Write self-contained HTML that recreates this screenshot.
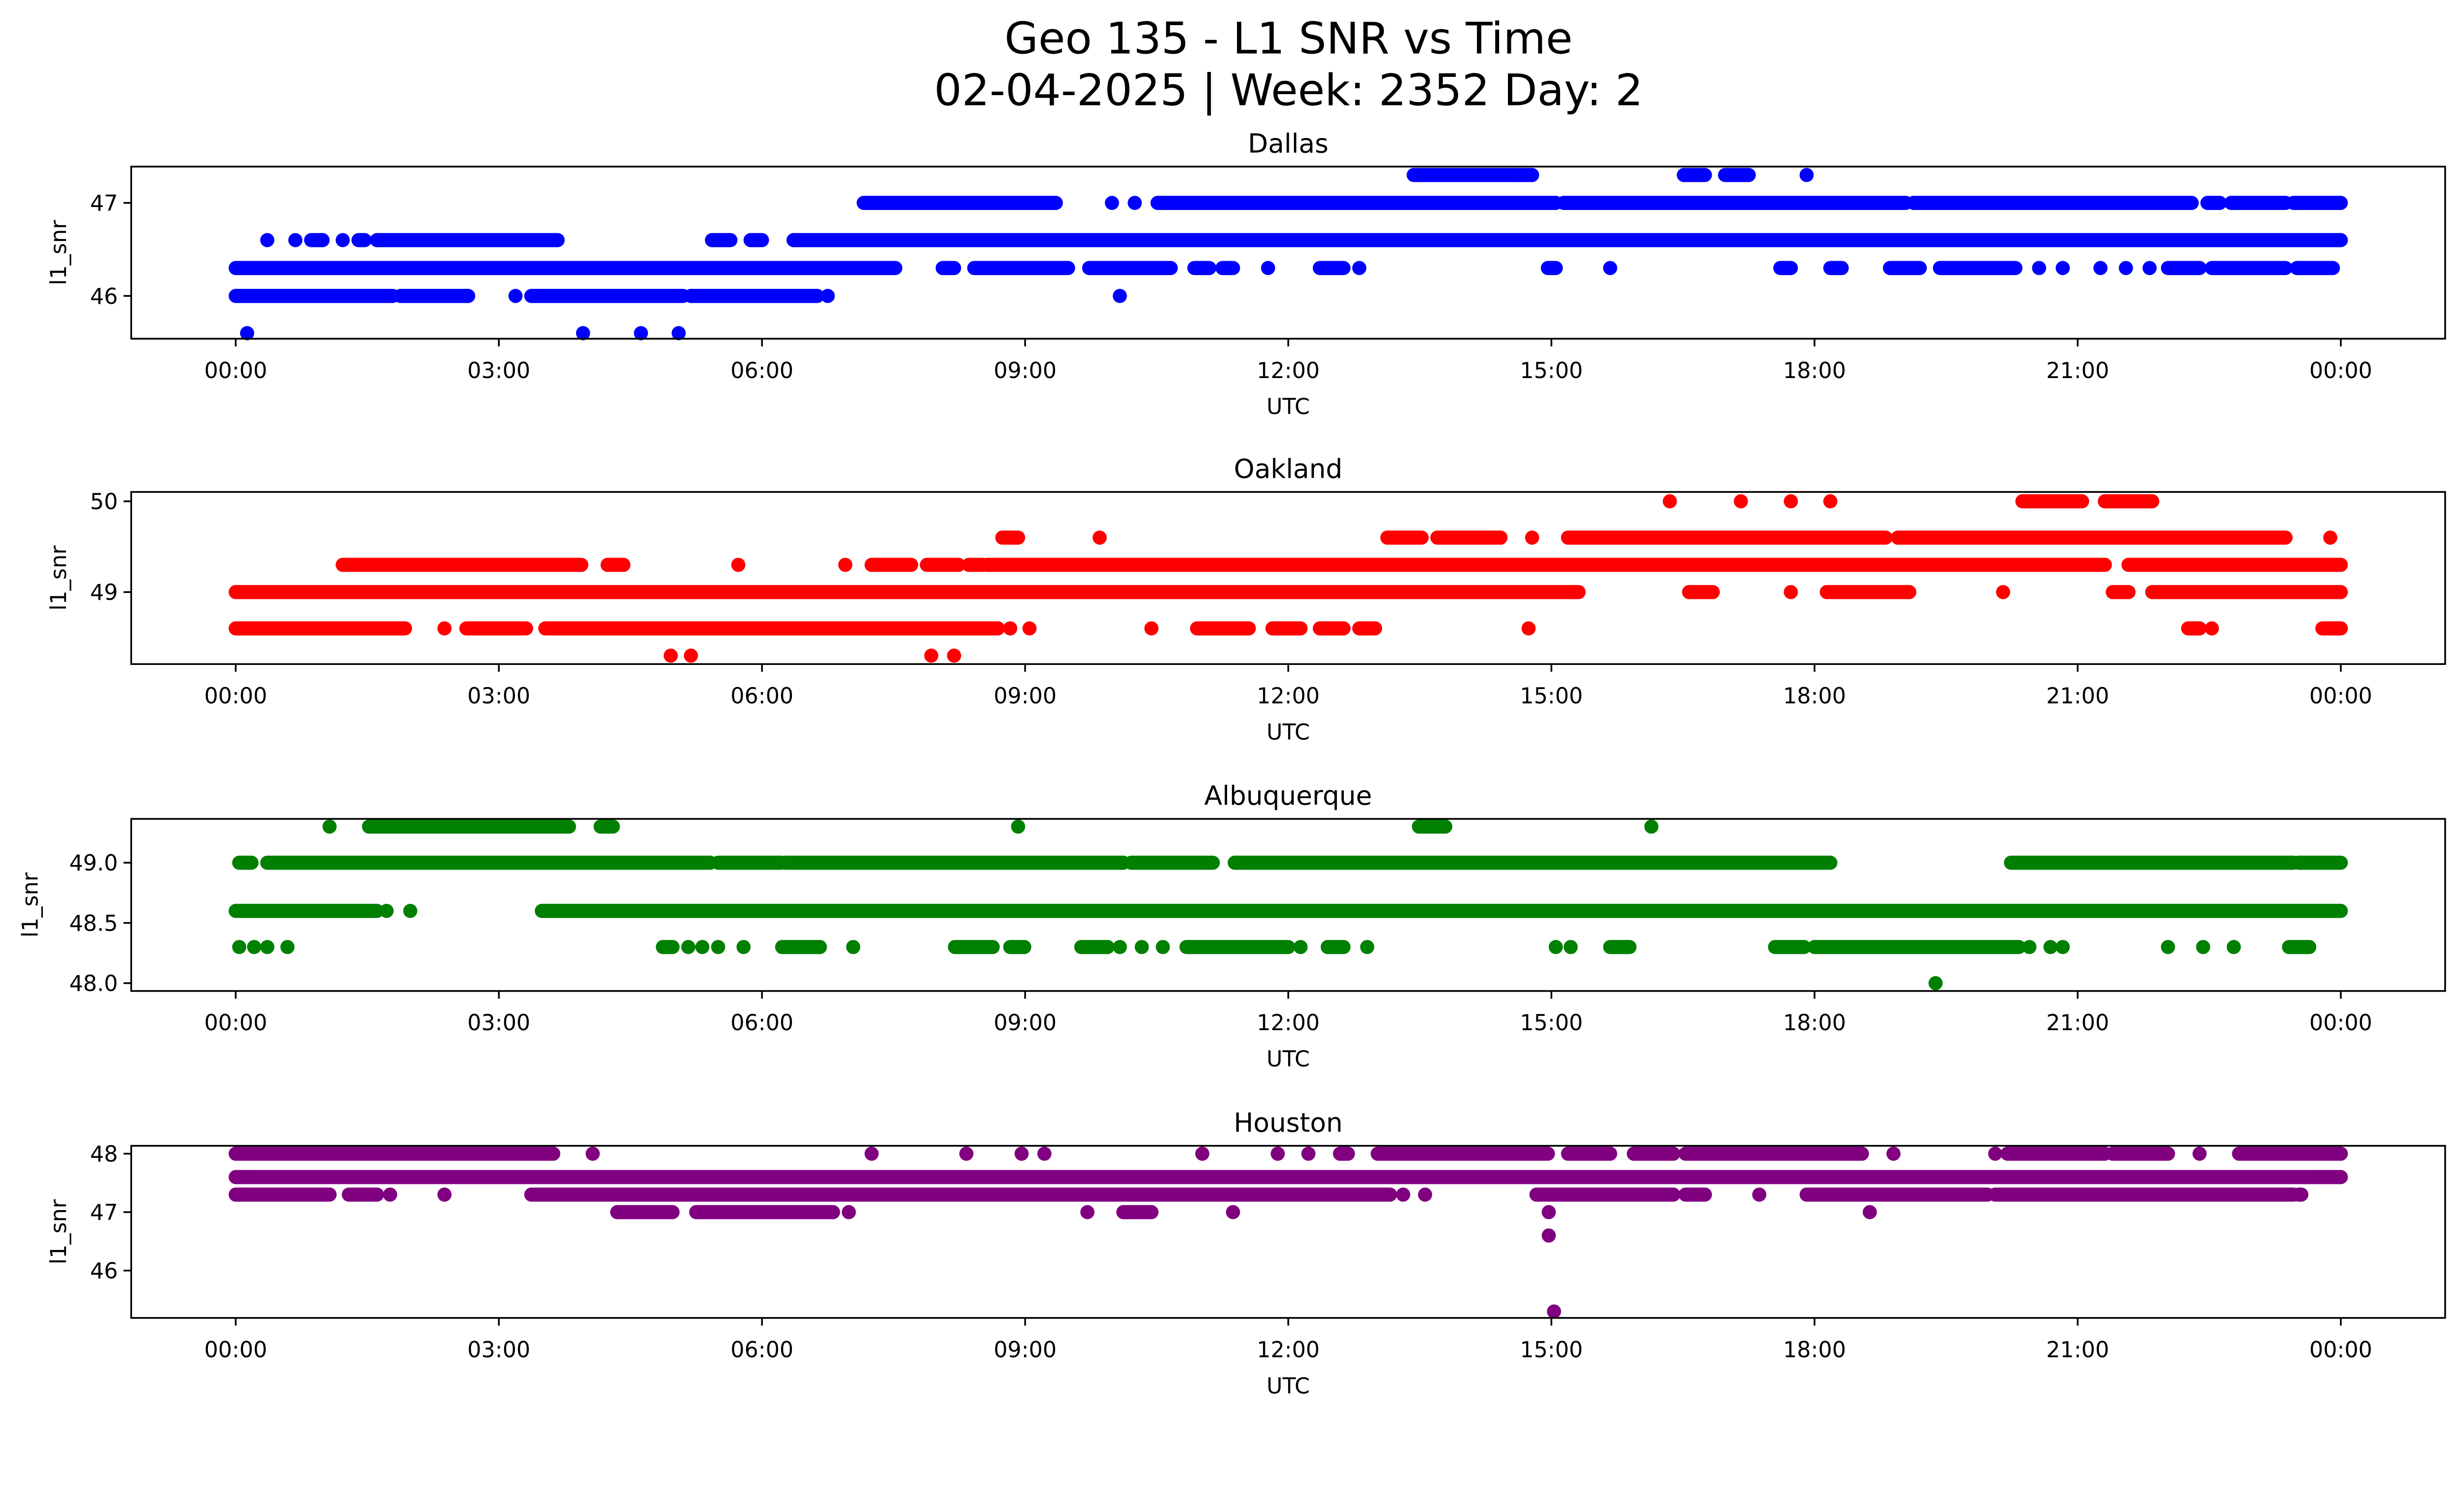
<!DOCTYPE html>
<html><head><meta charset="utf-8"><style>
html,body{margin:0;padding:0;background:#fff;overflow:hidden;width:100%;height:100%}
svg{display:block;position:fixed;left:0;top:0;width:100vw;height:57.4541vw}
text{font-family:"DejaVu Sans","Liberation Sans",sans-serif;fill:#000}
</style></head><body>
<svg xmlns="http://www.w3.org/2000/svg" viewBox="0 0 1568 900.9" preserveAspectRatio="none">
<rect width="1568" height="900.9" fill="#fff"/>
<g id="fig">
<text x="820" y="34" font-size="27.8" text-anchor="middle">Geo 135 - L1 SNR vs Time</text>
<text x="820" y="67" font-size="27.8" text-anchor="middle">02-04-2025 | Week: 2352 Day: 2</text>
</g>
</svg>
<script>
// Runs: [value, startHour, endHour]; single points: [value, hour]
const stationNames = ["Dallas","Oakland","Albuquerque","Houston"];
const stationColors = ["#0000ff","#ff0000","#008000","#800080"];
const yTicksDallas = [46,47];
const yTicksOakland = [49,50];
const yTicksAlbuquerque = [48.0,48.5,49.0];
const yTicksHouston = [46,47,48];
const xTickHours = [0,3,6,9,12,15,18,21,24];
const xTickLabels = ["00:00","03:00","06:00","09:00","12:00","15:00","18:00","21:00","00:00"];

const dallasRuns = [
 [47.3,13.43,14.56],[47.3,14.56,14.78],[47.3,16.51,16.75],[47.3,16.98,17.25],[47.3,17.91],
 [47.0,7.16,9.35],[47.0,9.99],[47.0,10.25],[47.0,10.51,15.05],[47.0,15.14,19.04],[47.0,19.13,22.3],[47.0,22.48,22.62],[47.0,22.75,23.37],[47.0,23.46,24],
 [46.6,0.36],[46.6,0.68],[46.6,0.86,0.99],[46.6,1.22],[46.6,1.40,1.47],[46.6,1.61,3.67],[46.6,5.43,5.64],[46.6,5.87,6.0],[46.6,6.36,24],
 [46.3,0,7.52],[46.3,8.06,8.19],[46.3,8.42,9.49],[46.3,9.73,10.66],[46.3,10.93,11.1],[46.3,11.25,11.37],[46.3,11.77],[46.3,12.36,12.63],[46.3,12.81],[46.3,14.96,15.05],[46.3,15.67],[46.3,17.61,17.73],[46.3,18.18,18.31],[46.3,18.86,19.2],[46.3,19.43,20.29],[46.3,20.56],[46.3,20.83],[46.3,21.26],[46.3,21.55],[46.3,21.82],[46.3,22.03,22.39],[46.3,22.53,23.37],[46.3,23.5,23.91],
 [46.0,0,1.79],[46.0,1.88,2.65],[46.0,3.19],[46.0,3.37,5.10],[46.0,5.19,6.63],[46.0,6.75],[46.0,10.08],
 [45.6,0.13],[45.6,3.96],[45.6,4.62],[45.6,5.05]
];
const oaklandRuns = [
 [50.0,16.35],[50.0,17.16],[50.0,17.73],[50.0,18.18],[50.0,20.37,21.05],[50.0,21.31,21.85],
 [49.6,8.74,8.92],[49.6,9.85],[49.6,13.13,13.52],[49.6,13.7,14.42],[49.6,14.78],[49.6,15.19,18.81],[49.6,18.95,23.37],[49.6,23.88],
 [49.3,1.22,3.94],[49.3,4.24,4.42],[49.3,5.73],[49.3,6.95],[49.3,7.25,7.70],[49.3,7.88,8.24],[49.3,8.36,8.51],[49.3,8.56,21.31],[49.3,21.58,24],
 [49.0,0,15.31],[49.0,16.57,16.84],[49.0,17.73],[49.0,18.14,19.08],[49.0,20.15],[49.0,21.4,21.58],[49.0,21.85,24],
 [48.6,0,1.93],[48.6,2.38],[48.6,2.63,3.31],[48.6,3.53,8.69],[48.6,8.83],[48.6,9.05],[48.6,10.44],[48.6,10.96,11.55],[48.6,11.82,12.14],[48.6,12.36,12.63],[48.6,12.81,12.99],[48.6,14.74],[48.6,22.26,22.39],[48.6,22.53],[48.6,23.79,24],
 [48.3,4.96],[48.3,5.19],[48.3,7.93],[48.3,8.19]
];
const albuquerqueRuns = [
 [49.3,1.07],[49.3,1.52,3.80],[49.3,4.16,4.30],[49.3,8.92],[49.3,13.49,13.79],[49.3,16.14],
 [49.0,0.04,0.18],[49.0,0.36,5.41],[49.0,5.50,6.22],[49.0,6.27,10.12],[49.0,10.21,11.14],[49.0,11.39,18.18],[49.0,20.24,23.46],[49.0,23.52,24],
 [48.6,0,1.61],[48.6,1.72],[48.6,1.99],[48.6,3.49,24],
 [48.3,0.04],[48.3,0.21],[48.3,0.36],[48.3,0.59],[48.3,4.87,4.98],[48.3,5.16],[48.3,5.32],[48.3,5.50],[48.3,5.79],[48.3,6.23,6.66],[48.3,7.04],[48.3,8.20,8.63],[48.3,8.83,8.99],[48.3,9.64,9.94],[48.3,10.08],[48.3,10.33],[48.3,10.57],[48.3,10.84,12.0],[48.3,12.14],[48.3,12.45,12.63],[48.3,12.9],[48.3,15.05],[48.3,15.22],[48.3,15.67,15.89],[48.3,17.55,17.88],[48.3,18.0,20.33],[48.3,20.45],[48.3,20.69],[48.3,20.83],[48.3,22.03],[48.3,22.43],[48.3,22.78],[48.3,23.41,23.64],
 [48.0,19.38]
];
const houstonRuns = [
 [48.0,0,3.62],[48.0,4.07],[48.0,7.25],[48.0,8.33],[48.0,8.96],[48.0,9.22],[48.0,11.02],[48.0,11.88],[48.0,12.23],[48.0,12.59,12.68],[48.0,13.02,14.96],[48.0,15.19,15.67],[48.0,15.94,16.39],[48.0,16.53,18.54],[48.0,18.9],[48.0,20.06],[48.0,20.2,21.31],[48.0,21.4,22.03],[48.0,22.39],[48.0,22.84,24],
 [47.6,0,24],
 [47.3,0,1.07],[47.3,1.29,1.61],[47.3,1.76],[47.3,2.38],[47.3,3.37,13.16],[47.3,13.31],[47.3,13.56],[47.3,14.83,16.39],[47.3,16.53,16.75],[47.3,17.37],[47.3,17.91,19.97],[47.3,20.06,23.46],[47.3,23.52,23.55],
 [47.0,4.35,4.98],[47.0,5.25,6.81],[47.0,6.99],[47.0,9.71],[47.0,10.12,10.44],[47.0,11.37],[47.0,14.97],[47.0,18.63],
 [46.6,14.97],[45.3,15.03]
];
const panelRuns = [dallasRuns, oaklandRuns, albuquerqueRuns, houstonRuns];
const panelYTicks = [yTicksDallas, yTicksOakland, yTicksAlbuquerque, yTicksHouston];
const panelYLabels = [["46","47"],["49","50"],["48.0","48.5","49.0"],["46","47","48"]];
const panelYLims = [[45.54,47.39],[48.207,50.103],[47.935,49.364],[45.19,48.135]];

const NS="http://www.w3.org/2000/svg";
const svg=document.getElementById('fig');
const AX_L=83.5, AX_R=1556;
const panelTops=[106,313,521,729], PH=109.5;
const X0=150, XPH=(1489.6-150)/24;
const R=4.5;
function xScale(h){return X0+h*XPH;}
function mk(tag,attrs,parent){const e=document.createElementNS(NS,tag);for(const k in attrs)e.setAttribute(k,attrs[k]);(parent||svg).appendChild(e);return e;}

for(let p=0;p<4;p++){
  const top=panelTops[p], bot=top+PH;
  const [lo,hi]=panelYLims[p];
  const yScale=v=>bot-(v-lo)/(hi-lo)*PH;
  const g=mk('g',{});
  
  
  const t=mk('text',{x:(AX_L+AX_R)/2,y:top-9,'font-size':16.7,'text-anchor':'middle'},g);
  t.textContent=stationNames[p];
  
  
  const series=mk('g',{fill:stationColors[p],stroke:stationColors[p]},g);
  
  
  for(const r of panelRuns[p]){
    const y=yScale(r[0]);
    if(r.length===2||r[2]===r[1]){
      const c=mk('circle',{cx:xScale(r[1]),cy:y,r:R,stroke:'none'},series);
      
      
    } else {
      const l=mk('line',{x1:xScale(r[1]),x2:xScale(r[2]),y1:y,y2:y,'stroke-width':2*R,'stroke-linecap':'round'},series);
      
      
    }
  }
  const frame=mk('rect',{x:AX_L,y:top,width:AX_R-AX_L,height:PH,fill:'none',stroke:'#000','stroke-width':1.1},g);
  
  
  for(let i=0;i<xTickHours.length;i++){
    const x=xScale(xTickHours[i]);
    mk('line',{x1:x,x2:x,y1:bot,y2:bot+4.9,stroke:'#000','stroke-width':1.1},g);
    const tl=mk('text',{x:x,y:bot+25,'font-size':13.9,'text-anchor':'middle'},g);
    tl.textContent=xTickLabels[i];
    
    
  }
  const xl=mk('text',{x:(AX_L+AX_R)/2,y:bot+48,'font-size':13.9,'text-anchor':'middle'},g);
  xl.textContent='UTC';
  
  
  const yt=panelYTicks[p];
  for(let i=0;i<yt.length;i++){
    const y=yScale(yt[i]);
    mk('line',{x1:AX_L-4.9,x2:AX_L,y1:y,y2:y,stroke:'#000','stroke-width':1.1},g);
    const tl=mk('text',{x:AX_L-8.5,y:y+5,'font-size':13.9,'text-anchor':'end'},g);
    tl.textContent=panelYLabels[p][i];
    
    
  }
  const yx = p===2 ? 24 : 42;
  const yl=mk('text',{x:yx,y:(top+bot)/2,'font-size':13.9,'text-anchor':'middle',transform:`rotate(-90 ${yx} ${(top+bot)/2})`},g);
  yl.textContent='l1_snr';
  
  
}
</script>
</body></html>
